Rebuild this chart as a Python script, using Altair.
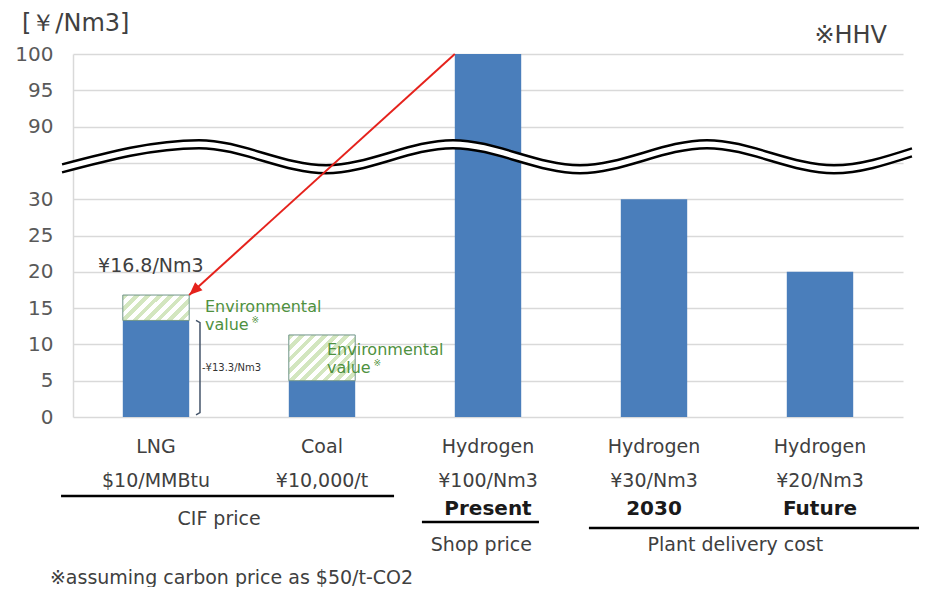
import altair as alt
import pandas as pd

# ---------------- data ----------------
categories = ["LNG", "Coal", "Hydrogen", "Hydrogen", "Hydrogen"]
price_labels = ["$10/MMBtu", "¥10,000/t", "¥100/Nm3", "¥30/Nm3", "¥20/Nm3"]
period_labels = ["", "", "Present", "2030", "Future"]
base_cost = [13.3, 5.0, 100.0, 30.0, 20.0]          # ¥/Nm3 (blue part)
total_cost = [16.8, 11.3, 100.0, 30.0, 20.0]        # incl. environmental value

# y axis with a break: values above the break are shifted down by BREAK_SHIFT
ytick_values = [0, 5, 10, 15, 20, 25, 30, 35, 40, 45, 50]
BREAK_AT = 35
BREAK_SHIFT = 50

groups = ["CIF price", "Shop price", "Plant delivery cost"]
group_x = [0.88, 2.46, 3.99]
group_line_x1 = [-0.072, 2.102, 3.108]
group_line_x2 = [1.934, 2.807, 5.2]
group_line_y = [442, 468, 474]
group_label_y = [471, 497, 497]

# wavy break lines (control points, compressed units)
wave_x = [-0.066, 0.759, 1.524, 2.289, 3.054, 3.819, 4.584, 5.054]
wave_top = [34.8, 38.13, 34.68, 38.13, 34.68, 38.13, 34.68, 37.0]
wave_gap = 1.1

FONT = "DejaVu Sans"
BLUE = "#4a7ebb"
RED = "#e5221c"
GREEN_TXT = "#4f9140"
GRID = "#d9d9d9"
TXT = "#404040"


def comp(v):
    return v if v <= BREAK_AT else v - BREAK_SHIFT


n = len(categories)
xs = alt.Scale(domain=[0, 5], nice=False, zero=False)
ys = alt.Scale(domain=[0, 50], nice=False, zero=False)

yaxis = alt.Axis(
    values=ytick_values,
    labelExpr=f"datum.value == {BREAK_AT} ? '' : (datum.value >= 40 ? format(datum.value + {BREAK_SHIFT}, 'd') : format(datum.value, 'd'))",
    grid=True, gridColor=GRID, gridWidth=1.5,
    domain=True, domainColor=GRID, domainWidth=1.5,
    ticks=False, labelPadding=20,
    labelFont=FONT, labelFontSize=20, labelColor="#595959",
    title=None,
)


def X(f):
    return alt.X(f, type="quantitative", scale=xs, axis=None)


def Y(f):
    return alt.Y(f, type="quantitative", scale=ys, axis=yaxis)


df_bars = pd.DataFrame({
    "cat": categories,
    "x1": [i + 0.3 for i in range(n)],
    "x2": [i + 0.7 for i in range(n)],
    "y1": [0.0] * n,
    "y2": [comp(v) for v in base_cost],
})

bars = alt.Chart(df_bars).mark_rect(color=BLUE).encode(
    x=X("x1"), x2="x2:Q", y=Y("y1"), y2="y2:Q",
)


def stripes(nper, gx2, gy2):
    stops = []
    for i in range(nper):
        a, b, c = i / nper, (i + 0.5) / nper, (i + 1) / nper
        stops += [alt.GradientStop(offset=a, color="#d3e6bf"),
                  alt.GradientStop(offset=b, color="#d3e6bf"),
                  alt.GradientStop(offset=b, color="#ffffff"),
                  alt.GradientStop(offset=c, color="#ffffff")]
    return alt.LinearGradient(gradient="linear", stops=stops,
                              x1=0, y1=0, x2=gx2, y2=gy2)


def hatch_layer(i, nper, gx2, gy2):
    d = pd.DataFrame({"x1": [i + 0.3], "x2": [i + 0.7],
                      "y1": [base_cost[i]], "y2": [total_cost[i]]})
    return alt.Chart(d).mark_rect(
        fill=stripes(nper, gx2, gy2), stroke="#6f9488", strokeWidth=1
    ).encode(x=X("x1"), x2="x2:Q", y=Y("y1"), y2="y2:Q")


hatch_lng = hatch_layer(0, 8, 1.206, 0.462)
hatch_coal = hatch_layer(1, 10, 1.146, 0.789)

# bracket for ¥13.3/Nm3
df_br = pd.DataFrame({"x": [0.741, 0.765, 0.765, 0.741],
                      "y": [13.3, 13.0, 0.6, 0.3], "o": [0, 1, 2, 3]})
bracket = alt.Chart(df_br).mark_line(color="#44546a", strokeWidth=1.5).encode(
    x=X("x"), y=Y("y"), order="o:Q",
)


def text_in_plot(texts, xv, yv, size, color, align="left", weight="normal"):
    d = pd.DataFrame({"t": texts, "x": xv, "y": yv})
    return alt.Chart(d).mark_text(
        font=FONT, fontSize=size, color=color, align=align,
        baseline="alphabetic", fontWeight=weight,
    ).encode(x=X("x"), y=Y("y"), text="t:N")


t_168 = text_in_plot(["¥16.8/Nm3"], [0.151], [20.0], 19, TXT)
t_env = text_in_plot(["Environmental", "value", "Environmental", "value"],
                     [0.795, 0.795, 1.53, 1.53], [14.5, 11.95, 8.55, 6.0], 16, GREEN_TXT)
t_env_mark = text_in_plot(["※", "※"], [1.075, 1.81], [12.9, 7.0], 9, GREEN_TXT)
t_133 = text_in_plot(["-¥13.3/Nm3"], [0.777], [6.3], 10, "#333333")

# wave break
df_wave = pd.DataFrame({"x": wave_x, "top": wave_top,
                        "bot": [v - wave_gap for v in wave_top]})
wave_fill = alt.Chart(df_wave).mark_area(color="white", opacity=1, interpolate="monotone").encode(
    x=X("x"), y=Y("top"), y2="bot:Q",
)
wave_top_line = alt.Chart(df_wave).mark_line(color="black", strokeWidth=2.5, interpolate="monotone").encode(
    x=X("x"), y=Y("top"),
)
wave_bot_line = alt.Chart(df_wave).mark_line(color="black", strokeWidth=2.5, interpolate="monotone").encode(
    x=X("x"), y=Y("bot"),
)

# arrow from the present hydrogen bar to the LNG total
df_arrow = pd.DataFrame({"x": [2.3], "y": [comp(total_cost[2])],
                         "x2": [0.7], "y2": [total_cost[0]]})
arrow_line = alt.Chart(df_arrow).mark_rule(color=RED, strokeWidth=2).encode(
    x=X("x"), y=Y("y"), x2="x2:Q", y2="y2:Q",
)
arrow_head = alt.Chart(df_arrow).mark_point(
    shape="M0,0L-0.42,1L0.42,1Z", filled=True, color=RED, opacity=1,
    size=676, angle=227.8, strokeWidth=0,
).encode(x=X("x2"), y=Y("y2"))


# texts below the plot
def text_below(texts, xv, ypix, size, color, align="center", weight="normal"):
    d = pd.DataFrame({"t": texts, "x": xv})
    return alt.Chart(d).mark_text(
        font=FONT, fontSize=size, color=color, align=align,
        baseline="alphabetic", fontWeight=weight,
    ).encode(x=X("x"), y=alt.value(ypix), text="t:N")


centers = [i + 0.5 for i in range(n)]
t_cat = text_below(categories, centers, 399, 19, TXT)
t_price = text_below(price_labels, centers, 433, 19, TXT)
t_period = text_below(period_labels, centers, 461, 20, "#1a1a1a", weight="bold")
t_groups = alt.layer(*[
    text_below([g], [gx], gy, 19, TXT) for g, gx, gy in zip(groups, group_x, group_label_y)
])
t_foot = text_below(["※assuming carbon price as $50/t-CO2"], [-0.139], 530, 19, TXT, align="left")

df_lines = pd.DataFrame({"x1": group_line_x1, "x2": group_line_x2, "y": group_line_y})
group_lines = alt.layer(*[
    alt.Chart(df_lines.iloc[[i]]).mark_rule(color="black", strokeWidth=2.5).encode(
        x=X("x1"), x2="x2:Q", y=alt.value(int(df_lines.y[i])),
    ) for i in range(len(df_lines))
])

# unit and HHV notes
t_unit = alt.Chart(pd.DataFrame({"t": ["[￥/Nm3]"]})).mark_text(
    font=FONT, fontSize=24, color=TXT, align="left", baseline="alphabetic"
).encode(x=alt.value(-51), y=alt.value(-23), text="t:N")
t_hhv = alt.Chart(pd.DataFrame({"t": ["※HHV"]})).mark_text(
    font=FONT, fontSize=24, color=TXT, align="right", baseline="alphabetic"
).encode(x=alt.value(814), y=alt.value(-11), text="t:N")

chart = alt.layer(
    bars, hatch_lng, hatch_coal, bracket, t_168, t_env, t_env_mark, t_133,
    wave_fill, wave_top_line, wave_bot_line, arrow_line, arrow_head,
    t_cat, t_price, t_period, t_groups, group_lines, t_foot, t_unit, t_hhv,
).properties(
    width=830, height=363,
    padding={"left": 65, "top": 46, "right": 16, "bottom": 170},
    autosize=alt.AutoSizeParams(type="none"),
    background="white",
).configure_view(stroke=None)

chart.save("out.html", embed_options={"renderer": "svg", "actions": False})
